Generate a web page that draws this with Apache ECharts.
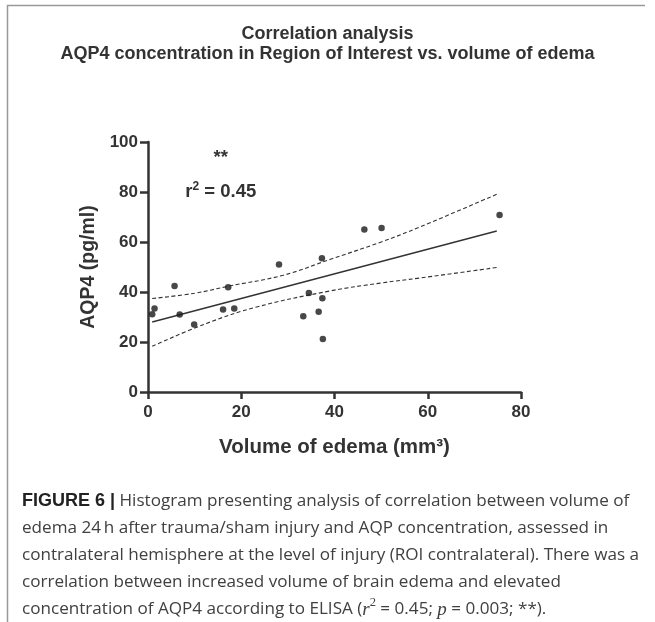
<!DOCTYPE html>
<html>
<head>
<meta charset="utf-8">
<script src="https://cdn.jsdelivr.net/npm/echarts@6/dist/echarts.min.js"></script>
<style>
html,body{margin:0;padding:0;background:#fff;}
#chart{width:655px;height:622px;}
</style>
</head>
<body>
<div id="chart"></div>
<script>
// Observed points: [volume of edema (mm3), AQP4 (pg/ml)]
var edemaVolume = [0.9, 1.4, 5.7, 6.8, 9.9, 16.1, 17.2, 18.5, 28.1, 33.3, 34.5, 36.6, 37.3, 37.4, 37.5, 46.4, 50.1, 75.4];
var aqp4Conc    = [31.1, 33.4, 42.4, 31.0, 27.0, 33.0, 41.9, 33.4, 51.0, 30.3, 39.6, 32.1, 53.5, 37.5, 21.2, 65.0, 65.6, 70.8];

// Regression line (endpoints)
var fitX = [0.9, 74.8];
var fitY = [28.0, 64.4];

// 95% confidence band
var upperX = [0.9, 10, 17.2, 29, 39, 50, 58.3, 74.8];
var upperY = [37.4, 39.5, 42.3, 46.7, 53.0, 60.0, 66.0, 79.1];
var lowerX = [0.9, 12.5, 23.3, 39, 50, 58.3, 74.8];
var lowerY = [18.3, 27.4, 34.0, 40.4, 43.6, 45.6, 49.8];

var xTicks = [0, 20, 40, 60, 80];
var yTicks = [0, 20, 40, 60, 80, 100];

function zip(a, b) { return a.map(function (v, i) { return [v, b[i]]; }); }

var chart = echarts.init(document.getElementById('chart'));
var dark = '#333333';
var titleFont = { fontFamily: 'Liberation Sans', fontWeight: 'bold', fontSize: 18, color: dark };
var option = {
  backgroundColor: '#ffffff',
  animation: false,
  title: [{
    text: 'Correlation analysis',
    left: 'center', top: 25, padding: 0,
    textStyle: titleFont
  }, {
    text: 'AQP4 concentration in Region of Interest vs. volume of edema',
    left: 'center', top: 45, padding: 0,
    textStyle: titleFont
  }, {
    text: '{b|FIGURE 6 |} Histogram presenting analysis of correlation between volume of\n' +
          'edema 24\u2009h after trauma/sham injury and AQP concentration, assessed in\n' +
          'contralateral hemisphere at the level of injury (ROI contralateral). There was a\n' +
          'correlation between increased volume of brain edema and elevated\n' +
          'concentration of AQP4 according to ELISA ({i|r}{s|2} = 0.45; {i|p} = 0.003; **).',
    left: 22,
    top: 488,
    padding: 0,
    textStyle: {
      fontFamily: 'Open Sans', fontWeight: 'normal', fontSize: 17.1, lineHeight: 27, color: '#404040',
      rich: {
        b: { fontFamily: 'Liberation Sans', fontWeight: 'bold', fontSize: 18, lineHeight: 27, color: '#222' },
        i: { fontFamily: 'Liberation Serif', fontStyle: 'italic', fontSize: 19, lineHeight: 27, color: '#404040' },
        s: { fontFamily: 'Liberation Serif', fontSize: 12.5, lineHeight: 27, verticalAlign: 'top', padding: [0, 0, 9, 0], color: '#404040' }
      }
    }
  }],
  graphic: [{
    type: 'polyline',
    shape: { points: [[645, 5.5], [7.5, 5.5], [7.5, 622]] },
    style: { stroke: '#999', lineWidth: 1.5, fill: null },
    silent: true
  }],
  grid: { left: 148, right: 134, top: 142, bottom: 230, containLabel: false },
  xAxis: {
    type: 'value', min: xTicks[0], max: xTicks[xTicks.length - 1], interval: 20,
    name: 'Volume of edema (mm\u00b3)', nameLocation: 'middle', nameGap: 45,
    nameTextStyle: { fontFamily: 'Liberation Sans', fontWeight: 'bold', fontSize: 20.5, color: dark },
    axisLine: { lineStyle: { color: dark, width: 2.5 } },
    axisTick: { show: true, length: 7, lineStyle: { color: dark, width: 2.5 } },
    axisLabel: { fontFamily: 'Liberation Sans', fontWeight: 'bold', fontSize: 17, color: dark, margin: 12 },
    splitLine: { show: false }
  },
  yAxis: {
    type: 'value', min: yTicks[0], max: yTicks[yTicks.length - 1], interval: 20,
    name: 'AQP4 (pg/ml)', nameLocation: 'middle', nameGap: 43,
    nameTextStyle: { fontFamily: 'Liberation Sans', fontWeight: 'bold', fontSize: 19.5, color: dark },
    axisLine: { lineStyle: { color: dark, width: 2.5 } },
    axisTick: { show: true, length: 8, lineStyle: { color: dark, width: 2.5 } },
    axisLabel: { fontFamily: 'Liberation Sans', fontWeight: 'bold', fontSize: 17, color: dark, margin: 10 },
    splitLine: { show: false }
  },
  series: [{
    type: 'line', data: zip(upperX, upperY), smooth: 0.4, symbol: 'none',
    lineStyle: { color: dark, width: 1.1, type: [4, 2.5] }, z: 2
  }, {
    type: 'line', data: zip(lowerX, lowerY), smooth: 0.4, symbol: 'none',
    lineStyle: { color: dark, width: 1.1, type: [4, 2.5] }, z: 2
  }, {
    type: 'line', data: zip(fitX, fitY), symbol: 'none',
    lineStyle: { color: dark, width: 1.4 }, z: 3
  }, {
    type: 'scatter', data: zip(edemaVolume, aqp4Conc), symbol: 'circle', symbolSize: 6.5,
    itemStyle: { color: '#1a1a1a' }, z: 4,
    markPoint: {
      symbol: 'rect', symbolSize: 0,
      label: {
        show: true, fontFamily: 'Liberation Sans', fontWeight: 'bold', fontSize: 18.5, color: dark, position: 'inside',
        rich: {
          s: { fontFamily: 'Liberation Sans', fontWeight: 'bold', fontSize: 12, color: dark, verticalAlign: 'top', padding: [0, 0, 10, 0] }
        }
      },
      data: [
        { coord: [15.6, 93.5], value: '**', label: { formatter: '**' } },
        { coord: [15.6, 80.2], value: 'r2', label: { formatter: 'r{s|2} = 0.45' } }
      ]
    }
  }]
};
chart.setOption(option);
</script>
</body>
</html>
